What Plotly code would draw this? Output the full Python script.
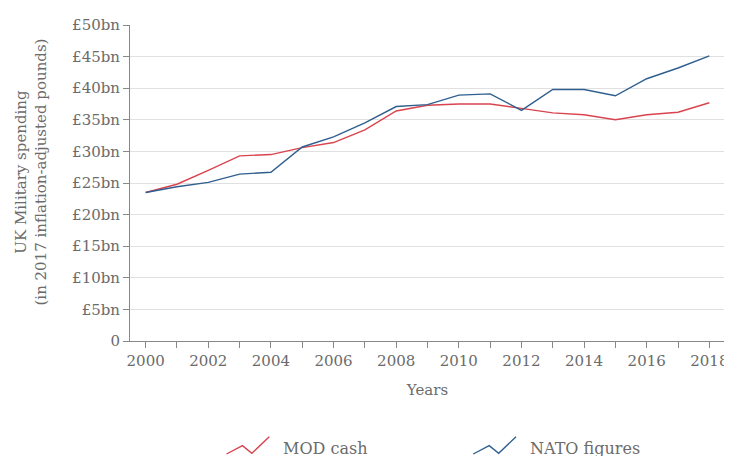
import plotly.graph_objects as go

years = list(range(2000, 2019))
mod_cash = [23.5, 24.8, 27.0, 29.3, 29.5, 30.6, 31.4, 33.4, 36.4, 37.3, 37.5, 37.5, 36.8, 36.1, 35.8, 35.0, 35.8, 36.2, 37.7]
nato_figures = [23.5, 24.4, 25.1, 26.4, 26.7, 30.7, 32.3, 34.5, 37.1, 37.4, 38.9, 39.1, 36.5, 39.8, 39.8, 38.8, 41.5, 43.2, 45.1]
y_ticks = [0, 5, 10, 15, 20, 25, 30, 35, 40, 45, 50]
y_labels = ["0"] + ["£%dbn" % v for v in y_ticks[1:]]
x_labels = [str(y) if y % 2 == 0 else "" for y in years]

RED = "#d9434e"
BLUE = "#2f5f8f"
TXT = "#6b6b6b"
FONT = "DejaVu Serif"

fig = go.Figure()
fig.add_trace(go.Scatter(x=years, y=mod_cash, mode="lines", name="MOD cash",
                         line=dict(color=RED, width=1.4)))
fig.add_trace(go.Scatter(x=years, y=nato_figures, mode="lines", name="NATO figures",
                         line=dict(color=BLUE, width=1.4)))

# page body has an 8px margin, so the figure is offset by 8px
OFF = 8
W, H = 732 - OFF, 456 - OFF
L, R, T, B = 130 - OFF, 4, 25 - OFF, 115
pw, ph = W - L - R, H - T - B

def px(x):
    return (x - OFF - L) / pw

def py(y):
    return (H - B - (y - OFF)) / ph

shapes = []
annotations = []
for color, x0, label in [(RED, 227, "MOD cash"), (BLUE, 475, "NATO figures")]:
    pts = [(x0, 454), (x0 + 16, 445.7), (x0 + 25.5, 453.3), (x0 + 43, 436.7)]
    path = "M " + " L ".join("%.4f,%.4f" % (px(a), py(b)) for a, b in pts)
    shapes.append(dict(type="path", path=path, xref="paper", yref="paper",
                       line=dict(color=color, width=1.4)))
    annotations.append(dict(text=label, x=px(x0 + 55), y=py(448), xref="paper", yref="paper",
                            xanchor="left", yanchor="middle", showarrow=False,
                            font=dict(family=FONT, size=16, color=TXT)))

annotations.append(dict(text="UK Military spending<br>(in 2017 inflation-adjusted pounds)",
                        x=px(31), y=py(172), xref="paper", yref="paper",
                        xanchor="center", yanchor="middle", textangle=-90, showarrow=False,
                        font=dict(family=FONT, size=15, color=TXT)))

fig.update_layout(
    width=W, height=H,
    margin=dict(l=L, r=R, t=T, b=B),
    paper_bgcolor="white", plot_bgcolor="white",
    showlegend=False,
    font=dict(family=FONT, size=15, color=TXT),
    shapes=shapes,
    annotations=annotations,
    xaxis=dict(range=[1999.5, 2018.5], tickmode="array", tickvals=years, ticktext=x_labels,
               ticks="outside", ticklen=6, tickcolor="#888", showline=True, linecolor="#888",
               linewidth=1, showgrid=False, zeroline=False,
               tickfont=dict(family=FONT, size=15, color=TXT),
               title=dict(text="Years", font=dict(family=FONT, size=15, color=TXT), standoff=15)),
    yaxis=dict(range=[0, 50], tickmode="array", tickvals=y_ticks, ticktext=y_labels,
               ticks="outside", ticklen=6, tickcolor="#888", showline=True, linecolor="#888",
               linewidth=1, showgrid=True, gridcolor="#e0e0e0", gridwidth=1, zeroline=False,
               tickfont=dict(family=FONT, size=15, color=TXT)),
)

fig.write_html("out.html")
